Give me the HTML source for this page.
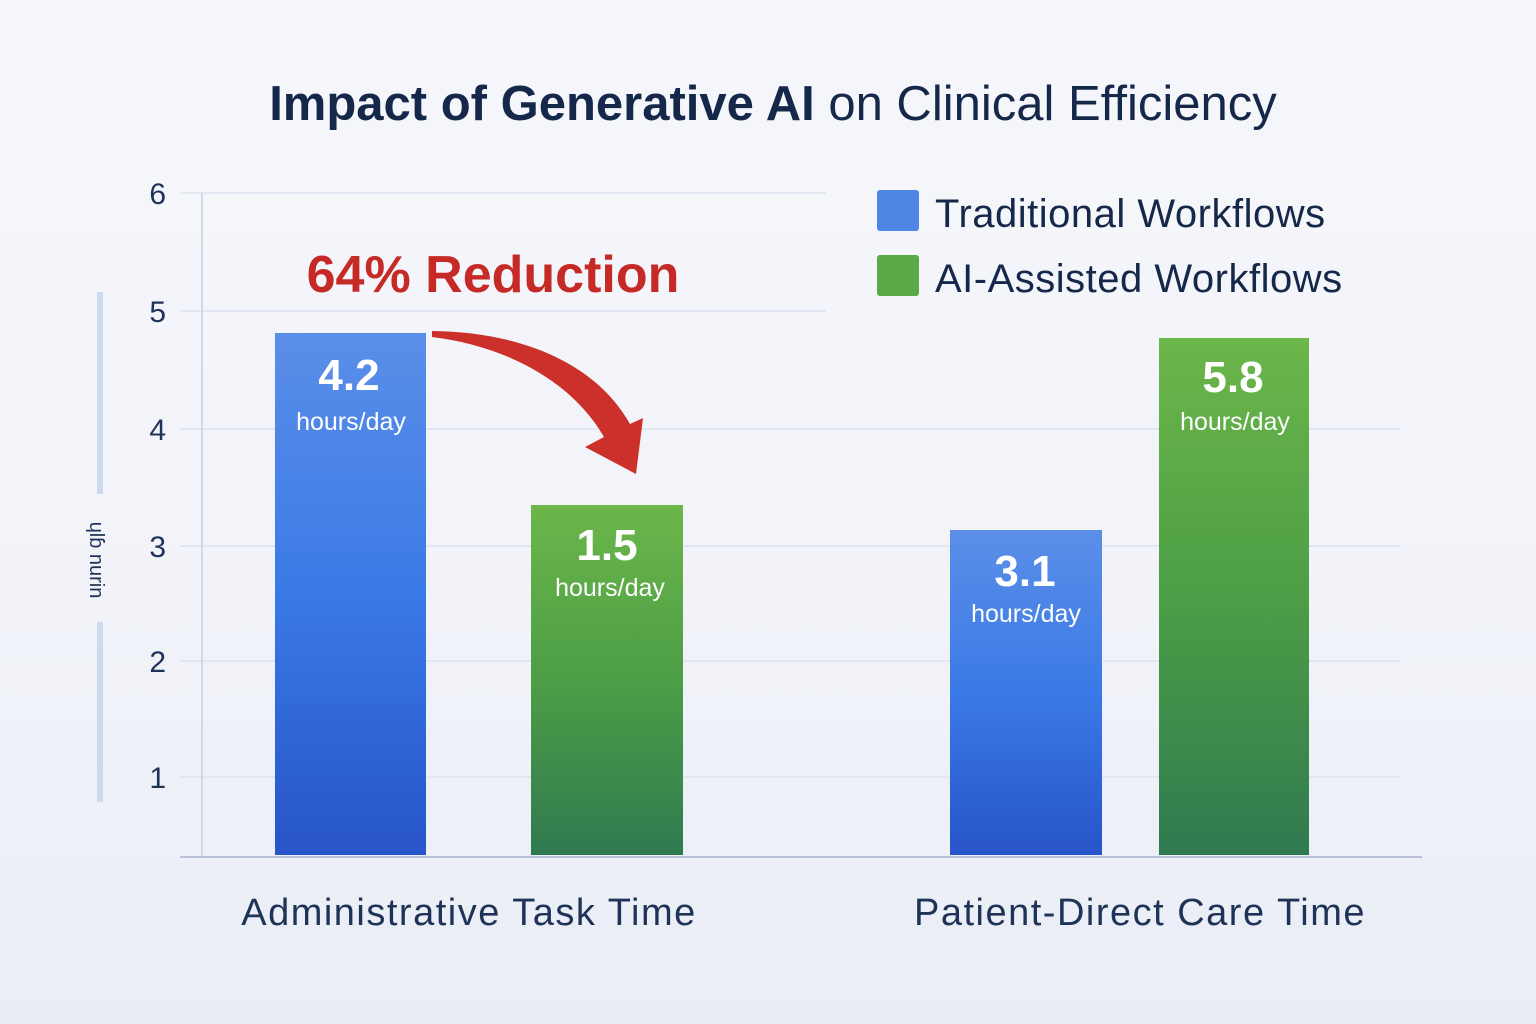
<!DOCTYPE html>
<html><head><style>
html,body{margin:0;padding:0;width:1536px;height:1024px;overflow:hidden;}
body{background:linear-gradient(180deg,#f6f7fb 0%,#f1f3f9 60%,#e9edf5 100%);font-family:"Liberation Sans","DejaVu Sans",sans-serif;}
</style></head><body>
<svg width="1536" height="1024" viewBox="0 0 1536 1024" xmlns="http://www.w3.org/2000/svg">
<defs>
<linearGradient id="b" x1="0" y1="0" x2="0" y2="1"><stop offset="0" stop-color="#5b8ee8"/><stop offset="0.5" stop-color="#3a7ae6"/><stop offset="1" stop-color="#2754c8"/></linearGradient>
<linearGradient id="g" x1="0" y1="0" x2="0" y2="1"><stop offset="0" stop-color="#6cb64a"/><stop offset="0.5" stop-color="#4c9e46"/><stop offset="1" stop-color="#2f7a50"/></linearGradient>
</defs>
<text x="773" y="120" text-anchor="middle" font-size="49" fill="#15284a"><tspan font-weight="bold">Impact of Generative AI</tspan> on Clinical Efficiency</text>
<g stroke="#dde2ef" stroke-width="1.5">
<line x1="180" y1="193" x2="826" y2="193"/><line x1="180" y1="311" x2="826" y2="311"/>
<line x1="180" y1="429" x2="1400" y2="429"/><line x1="180" y1="546" x2="1400" y2="546"/>
<line x1="180" y1="661" x2="1400" y2="661"/><line x1="180" y1="777" x2="1400" y2="777"/>
</g>
<line x1="202" y1="193" x2="202" y2="857" stroke="#c8cfe2" stroke-width="1.5"/>
<line x1="180" y1="857" x2="1422" y2="857" stroke="#b9c1d8" stroke-width="2"/>
<g font-size="30" fill="#1f3358" text-anchor="end">
<text x="166" y="204">6</text><text x="166" y="322">5</text><text x="166" y="440">4</text>
<text x="166" y="557">3</text><text x="166" y="672">2</text><text x="166" y="788">1</text></g>
<rect x="97" y="292" width="6" height="202" fill="#cdd9ee"/><rect x="97" y="622" width="6" height="180" fill="#cdd9ee"/>
<text transform="translate(90,560) rotate(90)" text-anchor="middle" font-size="20" fill="#1f3358">ɥlɓ nurin</text>
<rect x="275" y="333" width="151" height="522" fill="url(#b)"/>
<rect x="531" y="505" width="152" height="350" fill="url(#g)"/>
<rect x="950" y="530" width="152" height="325" fill="url(#b)"/>
<rect x="1159" y="338" width="150" height="517" fill="url(#g)"/>
<g fill="#fff" text-anchor="middle">
<text x="349" y="390" font-size="44" font-weight="bold">4.2</text><text x="351" y="430" font-size="25">hours/day</text>
<text x="607" y="560" font-size="44" font-weight="bold">1.5</text><text x="610" y="596" font-size="25">hours/day</text>
<text x="1025" y="586" font-size="44" font-weight="bold">3.1</text><text x="1026" y="622" font-size="25">hours/day</text>
<text x="1233" y="392" font-size="44" font-weight="bold">5.8</text><text x="1235" y="430" font-size="25">hours/day</text>
</g>
<text x="493" y="292" text-anchor="middle" font-size="52" font-weight="bold" fill="#c62a26">64% Reduction</text>
<path d="M432,331 C520,332 595,362 630,424 L643,418 L636,474 L585,447 L604,437 C570,378 500,345 432,337 Z" fill="#cc302a"/>
<rect x="877" y="190" width="42" height="41" rx="3" fill="#4f86e6"/>
<rect x="877" y="255" width="42" height="41" rx="3" fill="#5aaa48"/>
<text x="935" y="227" font-size="40" letter-spacing="0.5" fill="#15284a">Traditional Workflows</text>
<text x="935" y="292" font-size="40" letter-spacing="0.5" fill="#15284a">AI-Assisted Workflows</text>
<text x="469" y="925" text-anchor="middle" font-size="38" letter-spacing="1.5" fill="#1f3358">Administrative  Task  Time</text>
<text x="1140" y="925" text-anchor="middle" font-size="38" letter-spacing="1.5" fill="#1f3358">Patient-Direct Care Time</text>
</svg>
</body></html>
